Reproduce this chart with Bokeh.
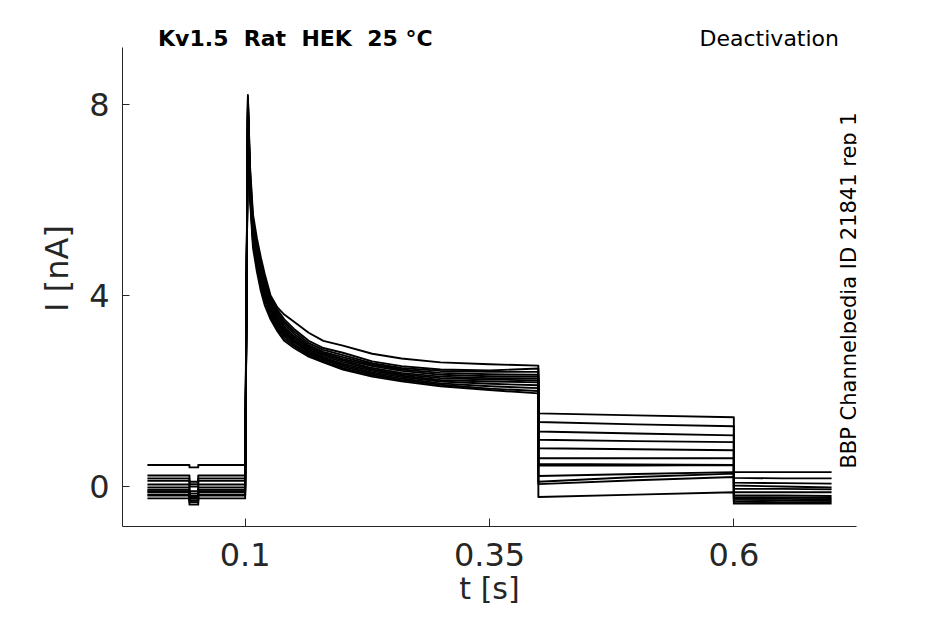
from bokeh.plotting import figure
from bokeh.models import Range1d, FixedTicker, Label
from bokeh.embed import file_html
from bokeh.resources import INLINE

# ---------------- data ----------------
x_ticks = [0.1, 0.35, 0.6]
x_tick_labels = ["0.1", "0.35", "0.6"]
y_ticks = [0, 4, 8]
y_tick_labels = ["0", "4", "8"]

NB = "\u00a0"  # keeps the double spacing of the original title
title_text = "Kv1.5 " + NB + "Rat " + NB + "HEK " + NB + "25 \u00b0C"
protocol_text = "Deactivation"
source_text = "BBP Channelpedia ID 21841 rep 1"
x_label = "t [s]"
y_label = "I [nA]"

# holding period (s) with the short leak-test dip
t_hold = [0.0, 0.043, 0.043, 0.052, 0.052, 0.1]
i_base = [0.45, 0.23, 0.17, 0.12, 0.04, -0.02, -0.07, -0.10, -0.12, -0.17, -0.19, -0.25]
i_dip = [0.40, 0.10, 0.05, 0.00, -0.10, -0.15, -0.20, -0.24, -0.26, -0.30, -0.33, -0.38]

# activating pulse: peak and inactivating decay (nA)
t_pulse = [0.1028, 0.105, 0.108, 0.112, 0.116, 0.12, 0.126, 0.133, 0.14,
           0.15, 0.165, 0.18, 0.2, 0.23, 0.26, 0.3, 0.35, 0.4]
i_pulse = [
    [8.20, 6.70, 5.70, 5.20, 4.80, 4.45, 4.00, 3.75, 3.60, 3.45, 3.22, 3.05, 2.95, 2.78, 2.68, 2.60, 2.56, 2.53],
    [8.15, 6.60, 5.60, 5.10, 4.70, 4.35, 3.95, 3.70, 3.50, 3.30, 3.05, 2.90, 2.80, 2.62, 2.52, 2.45, 2.43, 2.47],
    [8.10, 6.50, 5.50, 5.00, 4.60, 4.30, 3.90, 3.65, 3.45, 3.25, 3.00, 2.86, 2.75, 2.58, 2.48, 2.42, 2.40, 2.40],
    [8.05, 6.45, 5.45, 4.95, 4.55, 4.25, 3.85, 3.60, 3.40, 3.20, 2.96, 2.82, 2.71, 2.55, 2.45, 2.38, 2.35, 2.34],
    [8.00, 6.40, 5.40, 4.90, 4.50, 4.20, 3.80, 3.55, 3.35, 3.15, 2.93, 2.79, 2.67, 2.52, 2.42, 2.34, 2.31, 2.30],
    [7.95, 6.35, 5.35, 4.85, 4.45, 4.15, 3.75, 3.50, 3.30, 3.12, 2.90, 2.76, 2.64, 2.48, 2.38, 2.30, 2.27, 2.26],
    [7.90, 6.30, 5.30, 4.80, 4.40, 4.10, 3.72, 3.47, 3.27, 3.08, 2.87, 2.73, 2.61, 2.45, 2.35, 2.27, 2.24, 2.22],
    [7.90, 6.25, 5.25, 4.75, 4.35, 4.05, 3.68, 3.43, 3.23, 3.05, 2.84, 2.70, 2.57, 2.42, 2.32, 2.23, 2.20, 2.18],
    [7.85, 6.20, 5.20, 4.70, 4.30, 4.00, 3.64, 3.40, 3.20, 3.02, 2.81, 2.67, 2.54, 2.39, 2.29, 2.20, 2.15, 2.12],
    [7.80, 6.15, 5.15, 4.65, 4.25, 3.95, 3.60, 3.35, 3.15, 2.98, 2.78, 2.65, 2.51, 2.36, 2.26, 2.16, 2.10, 2.06],
    [7.75, 6.10, 5.10, 4.60, 4.20, 3.90, 3.55, 3.30, 3.10, 2.94, 2.75, 2.62, 2.48, 2.33, 2.23, 2.13, 2.05, 2.00],
    [7.70, 6.00, 5.00, 4.50, 4.10, 3.80, 3.50, 3.25, 3.05, 2.90, 2.72, 2.60, 2.45, 2.30, 2.20, 2.10, 2.02, 1.95],
]

# deactivation tail step (nA)
t_tail = [0.4, 0.5, 0.6]
i_tail = [
    [0.44, 0.44, 0.45],
    [1.53, 1.49, 1.45],
    [0.22, 0.26, 0.30],
    [1.35, 1.30, 1.26],
    [0.10, 0.20, 0.27],
    [1.15, 1.11, 1.07],
    [0.59, 0.59, 0.59],
    [0.98, 0.95, 0.93],
    [0.47, 0.46, 0.45],
    [0.80, 0.78, 0.76],
    [-0.22, -0.17, -0.12],
    [0.05, 0.13, 0.20],
]

# return to holding (nA)
t_post = [0.6, 0.65, 0.7]
i_post = [
    [0.30, 0.30, 0.30],
    [0.18, 0.17, 0.17],
    [0.08, 0.07, 0.06],
    [0.02, 0.00, -0.02],
    [-0.05, -0.05, -0.06],
    [-0.12, -0.12, -0.12],
    [-0.18, -0.19, -0.20],
    [-0.22, -0.23, -0.24],
    [-0.26, -0.26, -0.27],
    [-0.28, -0.29, -0.30],
    [-0.32, -0.33, -0.33],
    [-0.36, -0.36, -0.36],
]

# ---------------- figure ----------------
AX = "#262626"
FONT = "DejaVu Sans"
Y_LO, Y_AXIS_TOP = -0.838, 9.19

p = figure(width=929, height=608, output_backend="svg", toolbar_location=None,
           x_range=Range1d(-0.0255, 0.7255), y_range=Range1d(Y_LO, 9.968),
           min_border_left=122, min_border_right=73, min_border_top=10,
           min_border_bottom=82)
p.outline_line_color = None
p.grid.visible = False
p.background_fill_color = "white"
p.border_fill_color = "white"

for k in range(len(i_base)):
    b, d = i_base[k], i_dip[k]
    xs = t_hold + [t_pulse[0] - 0.0028] + t_pulse + t_tail + t_post
    ys = [b, b, d, d, b, b] + [b] + i_pulse[k] + i_tail[k] + i_post[k]
    p.line(xs, ys, line_color="black", line_width=1.9, line_join="round")

# axes
for ax in (p.xaxis, p.yaxis):
    ax.axis_line_color = AX
    ax.axis_line_width = 1
    ax.major_tick_line_color = AX
    ax.major_tick_out = 0
    ax.minor_tick_line_color = None
    ax.major_label_text_font = FONT
    ax.major_label_text_font_size = "32px"
    ax.major_label_text_color = AX

p.xaxis.ticker = FixedTicker(ticks=x_ticks)
p.xaxis.major_label_overrides = {t: s for t, s in zip(x_ticks, x_tick_labels)}
p.xaxis.major_tick_in = 8
p.xaxis.major_label_standoff = 16
p.xaxis.axis_label = x_label
p.xaxis.axis_label_text_font = FONT
p.xaxis.axis_label_text_font_size = "30px"
p.xaxis.axis_label_text_font_style = "normal"
p.xaxis.axis_label_text_color = AX
p.xaxis.axis_label_standoff = 2

p.yaxis.ticker = FixedTicker(ticks=y_ticks)
p.yaxis.major_label_overrides = {t: s for t, s in zip(y_ticks, y_tick_labels)}
p.yaxis.major_tick_in = 7
p.yaxis.major_label_standoff = 13
p.yaxis.bounds = (Y_LO, Y_AXIS_TOP)
p.yaxis.axis_label = y_label
p.yaxis.axis_label_text_font = FONT
p.yaxis.axis_label_text_font_size = "32px"
p.yaxis.axis_label_text_font_style = "normal"
p.yaxis.axis_label_text_color = AX
p.yaxis.axis_label_standoff = 10

TEXT_Y = 9.38
p.add_layout(Label(x=0.0109, y=TEXT_Y, text=title_text, text_font=FONT,
                   text_font_size="22px", text_font_style="bold",
                   text_color="black", text_align="left",
                   text_baseline="alphabetic"))
p.add_layout(Label(x=0.7076, y=TEXT_Y, text=protocol_text, text_font=FONT,
                   text_font_size="22px", text_color="black",
                   text_align="right", text_baseline="alphabetic"))
p.add_layout(Label(x=0.7178, y=4.105, text=source_text, text_font=FONT,
                   text_font_size="21px", text_color="black",
                   text_align="center", text_baseline="middle",
                   angle=1.5707963267948966))

open("out.html", "w").write(file_html(p, INLINE))
